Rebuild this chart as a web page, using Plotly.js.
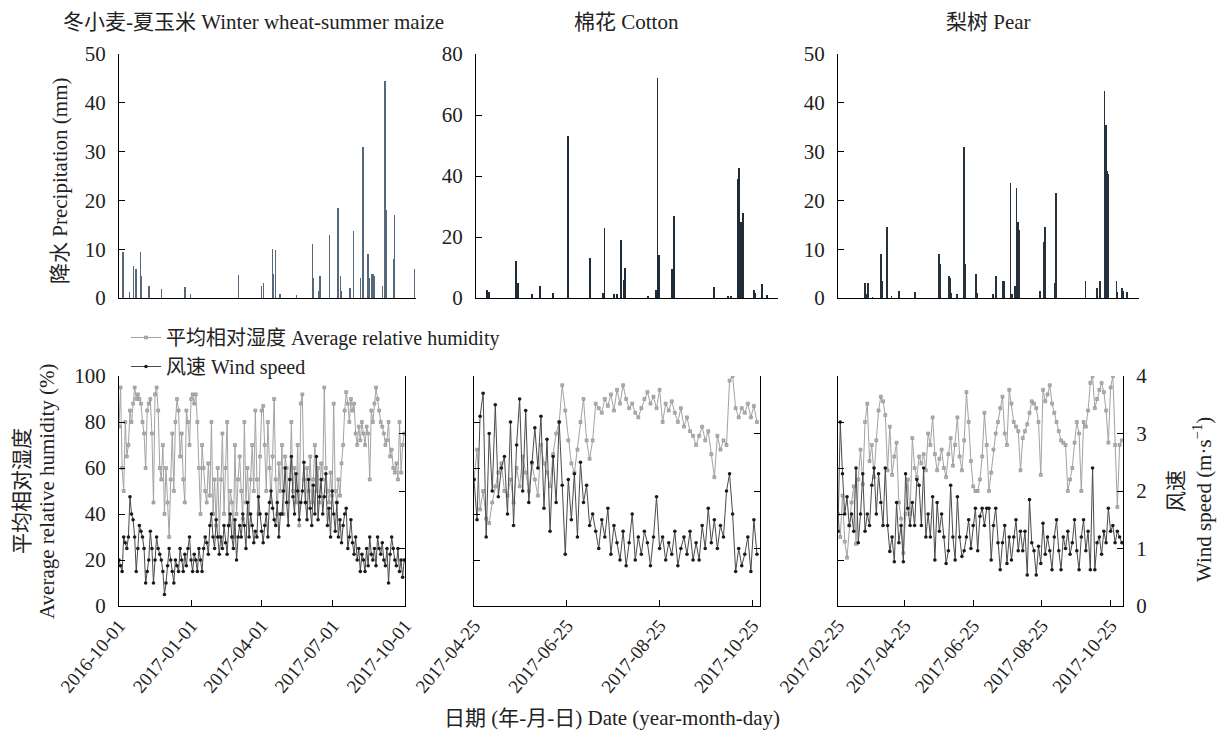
<!DOCTYPE html>
<html><head><meta charset="utf-8">
<script src="https://cdn.plot.ly/plotly-3.0.1.min.js"></script>
<style>html,body{margin:0;padding:0;background:#fff}#chart{width:1217px;height:742px}</style>
</head><body><div id="chart"></div>
<script>
// ---------- Precipitation (mm) ----------
const wheatRainDates = ['2016-10-06','2016-10-14','2016-10-19','2016-10-22','2016-10-27','2016-10-28','2016-11-07','2016-11-22','2016-12-21','2016-12-28','2017-02-25','2017-03-25','2017-03-28','2017-04-08','2017-04-09','2017-04-11','2017-04-17','2017-05-07','2017-05-27','2017-05-28','2017-06-03','2017-06-05','2017-06-17','2017-06-27','2017-06-28','2017-06-30','2017-07-01','2017-07-12','2017-07-16','2017-07-25','2017-07-28','2017-08-03','2017-08-04','2017-08-05','2017-08-08','2017-08-09','2017-08-11','2017-08-21','2017-08-24','2017-08-26','2017-09-03','2017-09-05','2017-09-29'];
const wheatRain = [9.5,1.2,6.5,6,9.5,4.5,2.5,1.8,2.2,0.8,4.8,2.5,3,10,5,9.8,0.8,0.7,11,4,1.5,4.5,13,18.5,7,4.5,1.5,2,13.7,4,31,9,9,4,5,5,4.5,2.5,44.5,18,8,17,6];

const cottonRainDates = ['2017-05-02','2017-05-03','2017-05-20','2017-05-21','2017-05-30','2017-06-04','2017-06-12','2017-06-21','2017-07-05','2017-07-13','2017-07-14','2017-07-20','2017-07-22','2017-07-24','2017-07-26','2017-07-27','2017-08-10','2017-08-15','2017-08-16','2017-08-17','2017-08-25','2017-08-26','2017-09-20','2017-09-29','2017-10-01','2017-10-05','2017-10-06','2017-10-07','2017-10-08','2017-10-15','2017-10-16','2017-10-20','2017-10-23'];
const cottonRain = [2.5,2,12,5,1.2,3.8,1.8,53,13,1.5,23,1.2,1.2,19,6,10,0.5,2.5,72,14,9.5,27,3.5,0.6,0.6,39,42.5,25,28,2.5,1.5,4.5,1];

const pearRainDates = ['2017-03-20','2017-03-21','2017-03-22','2017-03-26','2017-04-02','2017-04-03','2017-04-07','2017-04-11','2017-04-17','2017-05-01','2017-05-21','2017-05-22','2017-05-29','2017-05-30','2017-05-31','2017-06-05','2017-06-11','2017-06-12','2017-06-21','2017-06-22','2017-07-05','2017-07-08','2017-07-14','2017-07-15','2017-07-20','2017-07-21','2017-07-24','2017-07-25','2017-07-26','2017-07-27','2017-08-14','2017-08-17','2017-08-18','2017-08-26','2017-08-27','2017-09-21','2017-10-01','2017-10-03','2017-10-07','2017-10-08','2017-10-09','2017-10-10','2017-10-17','2017-10-18','2017-10-22','2017-10-23','2017-10-26'];
const pearRain = [3,0.8,3,0.3,9,3.5,14.5,0.5,1.5,1.2,9,7,4.5,4,1,0.8,31,7,5,1,0.8,4.5,3.5,3.5,23.5,0.8,2.5,22.5,15.5,14,1.5,11.5,14.5,3,21.5,3.5,2,3.5,42.5,35.5,26,25.5,3.5,1.2,2,1.5,1.2];

// ---------- Humidity (%) and wind speed (m/s), one reading every 2 days ----------
const wheatStart = '2016-10-01';
const wheatHum = [78,95,60,50,80,65,70, 85,80,88,95,90,92, 90,88,80,75,60,85,88, 90,75,45,92,95,85,
  60,55,70,40,60,45,30, 55,75,50,80,90,85, 65,75,55,45,85,80,70, 90,92,88,92,80,60,
  40,70,60,50,45,62,48, 80,40,55,35,60,30, 55,75,40,60,80,35,50, 45,30,70,40,55,65,
  50,38,80,45,60,40,55, 70,50,85,55,40,65, 85,87,70,50,80,60,45, 65,90,55,40,62,50,
  70,40,65,60,45,55,80, 50,60,45,70,35,88, 92,55,45,60,50,65,45, 55,70,50,60,45,62,
  55,95,60,50,45,58,48, 88,50,45,55,48,62, 70,85,93,88,80,90,85, 88,75,70,78,72,80,
  75,70,78,75,55,85,80, 88,95,90,85,80,78, 75,70,72,80,65,68,60, 58,62,55,80,58,70, 75];
const wheatWind = [0.8,0.7,0.6,1.2,1.1,1.0,1.2,1.9,1.6,1.5,1.2,0.6,1.0,
  1.4,1.3,1.2,1.0,0.4,0.6,0.8,1.3,1.0,0.4,0.8,1.2,1.0,
  0.9,0.8,0.6,0.2,0.4,0.7,1.0,0.8,0.6,0.4,0.8,0.7,0.6,
  1.0,0.8,0.6,0.9,0.7,1.0,1.2,0.8,0.6,0.9,0.8,0.6,1.0,
  0.8,0.6,1.0,1.2,1.1,0.9,1.4,1.6,1.2,1.0,1.5,1.2,0.9,
  1.2,1.0,1.4,1.1,0.9,1.4,1.6,1.2,1.0,1.5,0.8,1.2,1.4,
  1.2,1.6,1.4,1.0,1.8,1.2,1.6,1.4,1.1,1.3,1.2,1.9,1.6,
  1.3,1.1,1.4,1.6,1.2,1.8,2.0,1.7,1.5,1.4,1.8,1.2,1.6,
  1.6,2.0,2.4,1.8,1.4,2.2,2.6,1.9,1.6,2.3,2.0,1.5,1.8,
  2.0,2.5,1.8,1.5,2.2,1.7,1.4,2.1,1.6,2.6,1.5,1.9,2.2,
  1.6,1.9,2.3,1.4,1.7,1.2,2.0,1.6,1.3,1.8,1.2,1.5,1.1,
  1.4,1.6,1.7,1.0,1.2,1.5,1.1,0.9,1.2,0.8,1.0,0.6,0.9,
  0.8,0.6,1.0,0.7,1.2,0.9,0.8,1.0,0.7,1.2,1.0,0.9,1.1,
  0.8,0.7,1.0,0.4,0.9,1.2,1.0,0.8,0.7,1.0,0.6,0.8,0.5, 0.8];

const cottonStart = '2017-04-25';
const cottonHum = [55,68,42,50,38,36,45,52,58,62, 50,48,55,45,60,52,65,58,50,62,
  55,48,70,62,58,52,66,75,80,96, 85,72,62,58,68,80,90,72,64,72,
  88,86,84,90,87,92,85,94,88,96, 90,86,88,84,82,86,90,93,88,91,
  86,94,80,88,85,89,84,80,86,78, 82,76,74,70,74,78,72,76,66,56,
  74,68,72,70,98,100,86,82,86,84, 88,82,87,80];
const cottonWind = [2.2,1.5,3.3,3.7,1.2,3.0,2.0,3.5,1.9,2.4, 2.6,1.6,3.2,1.4,2.8,3.6,2.0,3.4,1.8,2.5,
  3.1,2.4,3.3,1.7,2.9,1.3,2.6,1.8,3.2,2.1, 0.9,2.2,1.5,2.3,1.2,2.5,1.8,2.1,1.4,1.6,
  1.3,1.0,1.5,1.2,1.7,0.9,1.4,1.1,0.8,1.3, 0.7,1.1,1.6,0.8,1.2,0.9,1.3,1.1,0.7,1.2,
  1.9,1.0,1.2,0.8,1.1,0.9,1.3,0.7,1.0,1.2, 0.9,1.3,0.8,1.1,0.8,1.4,1.0,1.7,1.1,1.5,
  1.0,1.4,1.2,2.0,2.3,1.6,0.6,1.0,0.7,0.9, 1.2,0.6,1.5,0.9];

const pearStart = '2017-02-25';
const pearHum = [40,30,48,28,21,35,45,52,27,55, 68,53,80,88,63,70,56,72,85,91,
  89,83,59,78,57,65,71,45,38,23, 40,55,40,73,60,56,65,62,66,59,
  75,70,82,66,59,64,68,60,56,66, 73,61,70,82,65,59,72,93,80,63,
  52,50,50,55,65,84,70,50,58,68, 75,80,86,91,75,70,94,88,80,78,
  76,59,73,76,79,84,89,88,86,80, 57,94,89,92,96,88,84,80,76,72,
  71,70,50,55,60,71,80,75,50,80, 78,85,97,100,86,90,94,97,93,85,
  71,95,100,70,43,70,72];
const pearWind = [1.3,3.2,2.3,1.6,1.9,1.4,1.6,1.3,2.4,1.1, 1.6,2.3,1.3,1.6,1.4,2.1,2.4,1.6,2.3,1.8,
  1.4,2.4,1.4,0.95,1.2,0.77,1.8,1.1,1.4,0.77, 2.3,1.7,1.4,1.8,1.4,2.2,2.1,1.4,2.4,1.2,
  1.6,1.2,1.9,0.8,1.8,1.3,1.6,1.2,0.74,0.96, 2.1,1.2,0.8,1.9,1.2,0.86,0.96,1.2,1.5,1.0,
  1.4,1.7,0.96,1.56,1.7,1.4,1.7,1.7,0.8,1.4, 1.7,1.1,0.63,1.1,1.4,0.74,1.2,0.8,1.2,1.5,
  0.96,1.3,0.96,1.3,0.54,1.85,1.1,0.96,0.54,1.04, 0.74,1.44,0.9,1.2,0.96,0.63,1.2,1.5,0.96,0.63,
  1.2,1.0,1.3,0.9,1.1,1.5,0.96,0.63,1.2,1.5, 0.96,1.3,0.63,2.4,0.63,1.1,1.2,0.9,1.3,1.1,
  1.7,1.3,1.4,1.1,1.3,1.2,1.1];

// ---------- Axis ranges and tick labels ----------
const wheatRange = ['2016-10-01','2017-10-01'];
const cottonRange = ['2017-04-25','2017-10-30'];
const pearRange = ['2017-02-25','2017-11-05'];
const wheatTicks = ['2016-10-01','2017-01-01','2017-04-01','2017-07-01','2017-10-01'];
const cottonTicks = ['2017-04-25','2017-06-25','2017-08-25','2017-10-25'];
const pearTicks = ['2017-02-25','2017-04-25','2017-06-25','2017-08-25','2017-10-25'];

const humName = '平均相对湿度 Average relative humidity';
const windName = '风速 Wind speed';

// ---------- helpers ----------
const W = 1217, H = 742;
const fx = p => p / W;
const fy = p => 1 - p / H;
const DAY = 86400000;
function dateSeq(start, n, step) {
  const [y, m, d] = start.split('-').map(Number);
  const t0 = Date.UTC(y, m - 1, d);
  const out = [];
  for (let i = 0; i < n; i++) out.push(new Date(t0 + i * step * DAY).toISOString().slice(0, 10));
  return out;
}
const FONT = 'Liberation Serif, Times New Roman, Noto Sans CJK SC, serif';
const TXT = '#222';

const humStyle = {mode: 'lines+markers', line: {color: '#a3a3a3', width: 1},
  marker: {symbol: 'square', size: 3, color: '#b0b0b0', line: {color: '#8c8c8c', width: 0.6}}};
const windStyle = {mode: 'lines+markers', line: {color: '#4a4a4a', width: 1},
  marker: {symbol: 'circle', size: 3.6, color: '#1a1a1a'}};

const traces = [];
function bars(x, y, xa, ya, color, w) {
  traces.push({type: 'bar', x: x, y: y, xaxis: xa, yaxis: ya, width: w * DAY,
    marker: {color: color, line: {width: 0}}, showlegend: false, hoverinfo: 'x+y'});
}
bars(wheatRainDates, wheatRain, 'x', 'y', '#56687b', 1.6);
bars(cottonRainDates, cottonRain, 'x2', 'y2', '#1f2c38', 1.2);
bars(pearRainDates, pearRain, 'x3', 'y3', '#25313c', 1.5);

function lines(start, hum, wind, xa, yh, yw, legend) {
  traces.push(Object.assign({type: 'scatter', x: dateSeq(start, hum.length, 2), y: hum, xaxis: xa, yaxis: yh,
    name: humName, legendgroup: 'h', showlegend: legend}, humStyle));
  traces.push(Object.assign({type: 'scatter', x: dateSeq(start, wind.length, 2), y: wind, xaxis: xa, yaxis: yw,
    name: windName, legendgroup: 'w', showlegend: legend}, windStyle));
}
lines(wheatStart, wheatHum, wheatWind, 'x4', 'y4', 'y5', true);
lines(cottonStart, cottonHum, cottonWind, 'x5', 'y6', 'y7', false);
lines(pearStart, pearHum, pearWind, 'x6', 'y8', 'y9', false);

const base = {showgrid: false, zeroline: false, showline: true, linecolor: '#000', linewidth: 1,
  tickcolor: '#000', tickfont: {family: FONT, size: 21, color: TXT}};
function topX(dom, range, y) {
  return Object.assign({}, base, {domain: [fx(dom[0]), fx(dom[1])], anchor: y, type: 'date',
    range: range, ticks: '', showticklabels: false});
}
function topY(x, max, dt) {
  return Object.assign({}, base, {domain: [fy(298), fy(54)], anchor: x, range: [0, max], dtick: dt,
    tickmode: 'linear', tick0: 0, ticks: 'inside', ticklen: 6, ticklabelstandoff: 8});
}
function botX(dom, range, ticks, y) {
  return Object.assign({}, base, {domain: [fx(dom[0]), fx(dom[1])], anchor: y, type: 'date',
    range: range, tickmode: 'array', tickvals: ticks, ticktext: ticks, tickangle: -50,
    ticks: 'inside', ticklen: 6, tickfont: {family: FONT, size: 19, color: TXT}});
}
function botYL(x, labels) {
  return Object.assign({}, base, {domain: [fy(606), fy(376)], anchor: x, range: [0, 100], dtick: 20,
    tickmode: 'linear', tick0: 0, ticks: 'inside', ticklen: 6, showticklabels: labels, ticklabelstandoff: 8});
}
function botYR(x, over, labels) {
  return Object.assign({}, base, {overlaying: over, anchor: x, side: 'right', range: [0, 4], dtick: 1,
    tickmode: 'linear', tick0: 0, ticks: 'inside', ticklen: 6, showticklabels: labels, ticklabelstandoff: 8});
}

function ann(text, px, py, opts) {
  return Object.assign({text: text, x: fx(px), y: fy(py), xref: 'paper', yref: 'paper',
    showarrow: false, font: {family: FONT, size: 21, color: TXT}, xanchor: 'center', yanchor: 'middle'}, opts || {});
}

const layout = {
  width: W, height: H, margin: {l: 0, r: 0, t: 0, b: 0},
  paper_bgcolor: '#fff', plot_bgcolor: 'rgba(0,0,0,0)', bargap: 0,
  font: {family: FONT, size: 21, color: TXT},
  showlegend: true,
  legend: {x: fx(126), y: fy(318), xanchor: 'left', yanchor: 'top', bgcolor: 'rgba(0,0,0,0)',
    font: {family: FONT, size: 20, color: TXT}, tracegroupgap: 0, itemwidth: 30},
  xaxis: topX([119, 416], wheatRange, 'y'),
  yaxis: topY('x', 50, 10),
  xaxis2: topX([476, 778], cottonRange, 'y2'),
  yaxis2: topY('x2', 80, 20),
  xaxis3: topX([838, 1139], pearRange, 'y3'),
  yaxis3: topY('x3', 50, 10),
  xaxis4: botX([119, 405], wheatRange, wheatTicks, 'y4'),
  yaxis4: botYL('x4', true),
  yaxis5: botYR('x4', 'y4', false),
  xaxis5: botX([474, 760], cottonRange, cottonTicks, 'y6'),
  yaxis6: botYL('x5', false),
  yaxis7: botYR('x5', 'y6', false),
  xaxis6: botX([838, 1123], pearRange, pearTicks, 'y8'),
  yaxis8: botYL('x6', false),
  yaxis9: botYR('x6', 'y8', true),
  annotations: [
    ann('冬小麦-夏玉米 Winter wheat-summer maize', 253, 22),
    ann('棉花 Cotton', 626, 22),
    ann('梨树 Pear', 988, 22),
    ann('降水 Precipitation (mm)', 60, 181, {textangle: -90}),
    ann('平均相对湿度', 22, 491, {textangle: -90}),
    ann('Average relative humidity (%)', 47, 491, {textangle: -90}),
    ann('风速', 1176, 491, {textangle: -90}),
    ann('Wind speed (m·s<sup>−1</sup>)', 1202, 500, {textangle: -90}),
    ann('日期 (年-月-日) Date (year-month-day)', 612, 718)
  ]
};

Plotly.newPlot('chart', traces, layout, {displayModeBar: false, staticPlot: true});
</script></body></html>
